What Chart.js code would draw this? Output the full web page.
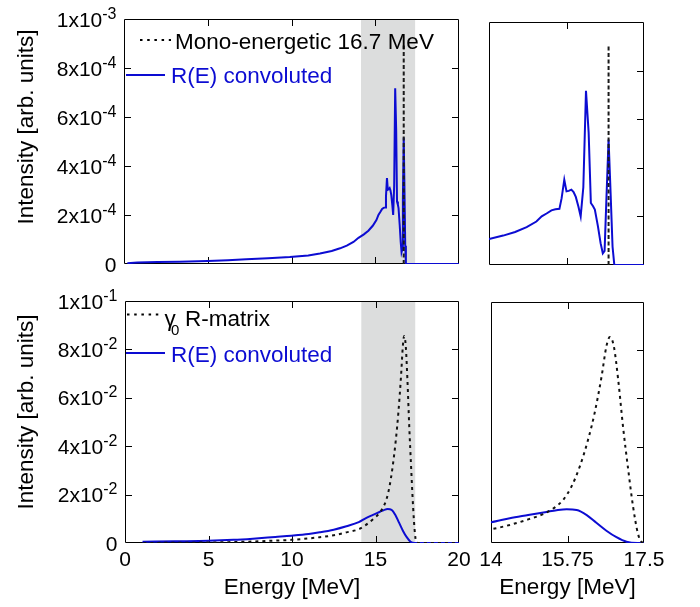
<!DOCTYPE html>
<html>
<head>
<meta charset="utf-8">
<script src="https://cdn.jsdelivr.net/npm/chart.js@4.4.1/dist/chart.umd.min.js"></script>
<style>
  html, body { margin: 0; padding: 0; background: #fff; }
  #wrap { position: relative; width: 700px; height: 607px; }
  #wrap canvas { position: absolute; left: 0; top: 0; }
</style>
</head>
<body>
<div id="wrap">
  <canvas id="topFull" width="700" height="607"></canvas>
  <canvas id="topZoom" width="700" height="607"></canvas>
  <canvas id="botFull" width="700" height="607"></canvas>
  <canvas id="botZoom" width="700" height="607"></canvas>
</div>
<script>
// ---- Mono-energetic 16.7 MeV line and its R(E)-convoluted response ----
const monoEnergy = [16.7, 16.7];
const monoIntensity = [0, 9.0e-4];

const respEnergy = [0.2, 0.8, 2.0, 3.3, 5.0, 6.2, 7.3, 8.6, 9.9, 11.0, 11.7, 12.4, 12.9,
  13.3, 13.7, 14.0, 14.32, 14.59, 14.85, 15.07, 15.19, 15.30, 15.41, 15.50, 15.59, 15.64,
  15.70, 15.75, 15.80, 15.86, 15.91, 15.96, 16.02, 16.07, 16.13, 16.19, 16.25, 16.30, 16.35,
  16.39, 16.46, 16.52, 16.57, 16.61, 16.65, 16.70, 16.74, 16.79, 16.83, 17.5, 20.0];
const respIntensity = [0.03e-4, 0.065e-4, 0.08e-4, 0.094e-4, 0.12e-4, 0.15e-4, 0.19e-4,
  0.23e-4, 0.285e-4, 0.35e-4, 0.43e-4, 0.53e-4, 0.64e-4, 0.75e-4, 0.90e-4, 1.07e-4, 1.21e-4,
  1.36e-4, 1.56e-4, 1.79e-4, 2.00e-4, 2.12e-4, 2.25e-4, 2.29e-4, 2.31e-4, 2.75e-4, 3.51e-4,
  3.03e-4, 3.05e-4, 3.10e-4, 3.00e-4, 2.80e-4, 2.40e-4, 2.00e-4, 3.20e-4, 7.17e-4, 5.45e-4,
  2.55e-4, 2.42e-4, 2.28e-4, 1.59e-4, 0.90e-4, 0.48e-4, 0.58e-4, 2.65e-4, 5.16e-4, 3.25e-4,
  0.75e-4, 0, 0, 0];

// ---- gamma0 R-matrix spectrum and its R(E)-convoluted response ----
const rmatEnergy = [1.1, 3.0, 5.0, 6.5, 7.66, 9.0, 9.96, 11.0, 11.66, 12.5, 13.26, 14.0,
  14.43, 14.85, 15.23, 15.46, 15.65, 15.84, 16.03, 16.22, 16.37, 16.53, 16.64, 16.72, 16.81,
  16.91, 17.02, 17.13, 17.25, 17.36, 17.44, 17.6, 20.0];
const rmatIntensity = [0.0, 0.0001, 0.0002, 0.0004, 0.0006, 0.0010, 0.0013, 0.0019, 0.0024,
  0.0032, 0.0044, 0.0057, 0.0075, 0.0098, 0.0123, 0.0148, 0.0179, 0.0234, 0.0317, 0.0428,
  0.0539, 0.0691, 0.0816, 0.0855, 0.0816, 0.0677, 0.0483, 0.0317, 0.0151, 0.0040, 0.0005,
  0.0, 0.0];

const convEnergy = [1.05, 3.0, 5.0, 6.5, 7.66, 9.0, 9.96, 11.0, 11.66, 12.5, 13.26, 14.0,
  14.43, 14.85, 15.27, 15.5, 15.73, 15.96, 16.19, 16.41, 16.64, 16.87, 17.10, 17.35, 20.0];
const convIntensity = [0.0005, 0.0007, 0.0009, 0.0013, 0.0018, 0.0025, 0.0030, 0.0037,
  0.0044, 0.0055, 0.0069, 0.0086, 0.0103, 0.0116, 0.0129, 0.0136, 0.0140, 0.0137, 0.0116,
  0.0084, 0.0051, 0.0024, 0.0005, 0.0, 0.0];

// ---- shaded energy window, ticks and labels ----
const bandRange = [14.15, 17.38];
const xTicksFull = [0, 5, 10, 15, 20];
const xTickLabelsFull = ['0', '5', '10', '15', '20'];
const xTicksZoom = [14, 15.75, 17.5];
const xTickLabelsZoom = ['14', '15.75', '17.5'];
const yTicksTop = [0, 2e-4, 4e-4, 6e-4, 8e-4, 1e-3];
const yTickLabelsTop = [['0', ''], ['2x10', '-4'], ['4x10', '-4'], ['6x10', '-4'], ['8x10', '-4'], ['1x10', '-3']];
const yTicksBottom = [0, 0.02, 0.04, 0.06, 0.08, 0.1];
const yTickLabelsBottom = [['0', ''], ['2x10', '-2'], ['4x10', '-2'], ['6x10', '-2'], ['8x10', '-2'], ['1x10', '-1']];

const FONT = '"Liberation Sans", Arial, Helvetica, sans-serif';
const BLUE = '#0c0cd2';
const INK = '#000';
const BAND = '#dcdddd';

const zip = (xs, ys) => xs.map((x, i) => ({ x, y: ys[i] }));

// Frame, inward ticks, band, y labels with exponents, axis title, legend
const decor = {
  id: 'decor',
  beforeDatasetsDraw(chart, _args, o) {
    const { ctx, chartArea: a } = chart;
    const x = chart.scales.x, y = chart.scales.y;
    ctx.save();
    if (o.band) {
      const b0 = Math.max(a.left, x.getPixelForValue(o.band[0]));
      const b1 = Math.min(a.right, x.getPixelForValue(o.band[1]));
      if (b1 > b0) {
        ctx.fillStyle = BAND;
        ctx.fillRect(b0, a.top, b1 - b0, a.bottom - a.top);
      }
    }

    ctx.strokeStyle = INK;
    ctx.lineWidth = 1;
    ctx.beginPath();
    ctx.rect(a.left + 0.5, a.top + 0.5, a.width - 1, a.height - 1);
    const L = 7;
    x.ticks.forEach(t => {
      const px = Math.round(x.getPixelForValue(t.value)) + 0.5;
      if (px <= a.left + 2 || px >= a.right - 2) return;
      ctx.moveTo(px, a.top); ctx.lineTo(px, a.top + L);
      ctx.moveTo(px, a.bottom); ctx.lineTo(px, a.bottom - L);
    });
    y.ticks.forEach(t => {
      const py = Math.round(y.getPixelForValue(t.value)) + 0.5;
      if (py <= a.top + 2 || py >= a.bottom - 2) return;
      if (o.leftTicks) { ctx.moveTo(a.left, py); ctx.lineTo(a.left + L, py); }
      ctx.moveTo(a.right, py); ctx.lineTo(a.right - L, py);
    });
    ctx.stroke();

    if (o.yLabels) {
      ctx.fillStyle = INK;
      ctx.textAlign = 'right';
      ctx.textBaseline = 'alphabetic';
      y.ticks.forEach((t, i) => {
        const [m, e] = o.yLabels[i];
        const py = y.getPixelForValue(t.value);
        const rx = a.left - 7.5;
        if (!e) {
          ctx.font = `21px ${FONT}`;
          ctx.fillText(m, rx, py + 7.5);
          return;
        }
        ctx.font = `16px ${FONT}`;
        const ew = ctx.measureText(e).width;
        ctx.fillText(e, rx, py - 0.5);
        ctx.font = `21px ${FONT}`;
        ctx.fillText(m, rx - ew, py + 7.5);
      });
    }
    if (o.yTitle) {
      ctx.save();
      ctx.translate(32.5, o.yTitle.cy);
      ctx.rotate(-Math.PI / 2);
      ctx.fillStyle = INK;
      ctx.font = `22.5px ${FONT}`;
      ctx.textAlign = 'center';
      ctx.textBaseline = 'alphabetic';
      ctx.fillText(o.yTitle.text, 0, 0);
      ctx.restore();
    }
    ctx.restore();
  },
  afterDatasetsDraw(chart, _args, o) {
    if (!o.legend) return;
    const { ctx } = chart;
    ctx.save();
    o.legend.forEach(it => {
      ctx.beginPath();
      ctx.strokeStyle = it.color;
      ctx.lineWidth = 2;
      ctx.setLineDash(it.dash || []);
      ctx.moveTo(it.x0, it.ly);
      ctx.lineTo(it.x1, it.ly);
      ctx.stroke();
      ctx.setLineDash([]);
      ctx.fillStyle = it.color;
      ctx.textAlign = 'left';
      ctx.textBaseline = 'alphabetic';
      let tx = it.tx;
      if (it.symbol) {
        ctx.font = `22.5px ${FONT}`;
        ctx.fillText(it.symbol, tx, it.ty);
        ctx.font = `15px ${FONT}`;
        ctx.fillText(it.sub, it.subX, it.ty + 9);
        tx = it.textX;
      }
      ctx.font = `22.5px ${FONT}`;
      ctx.fillText(it.text, tx, it.ty);
    });
    ctx.restore();
  }
};

function panel(id, cfg) {
  const [left, top, right, bottom] = cfg.area;
  const showX = !!cfg.xLabels;
  return new Chart(document.getElementById(id), {
    type: 'line',
    data: { datasets: cfg.datasets },
    options: {
      responsive: false,
      animation: false,
      devicePixelRatio: 1,
      events: [],
      layout: { autoPadding: false, padding: { left, top, right: 700 - right, bottom: showX ? 0 : 607 - bottom } },
      elements: { point: { radius: 0 } },
      plugins: { legend: { display: false }, tooltip: { enabled: false }, decor: cfg.decor },
      scales: {
        x: {
          type: 'linear', position: 'bottom', min: cfg.xRange[0], max: cfg.xRange[1],
          grid: { display: false, drawTicks: false }, border: { display: false },
          afterBuildTicks: s => { s.ticks = cfg.xTicks.map(v => ({ value: v })); },
          afterFit: s => { s.height = showX ? 607 - bottom : 0; s.paddingLeft = 0; s.paddingRight = 0; },
          ticks: {
            display: showX, autoSkip: false, maxRotation: 0, padding: 5, color: INK,
            font: { family: FONT, size: 21, lineHeight: 1.2 },
            callback: (v, i) => (cfg.xLabels ? cfg.xLabels[i] : '')
          },
          title: {
            display: showX, text: 'Energy [MeV]', color: INK,
            font: { family: FONT, size: 22.5, lineHeight: 1.2 }, padding: { top: 0, bottom: 6 }
          }
        },
        y: {
          type: 'linear', position: 'left', min: cfg.yRange[0], max: cfg.yRange[1],
          grid: { display: false, drawTicks: false }, border: { display: false },
          afterBuildTicks: s => { s.ticks = cfg.yTicks.map(v => ({ value: v })); },
          afterFit: s => { s.width = 0; },
          ticks: { display: false }
        }
      }
    },
    plugins: [decor]
  });
}

function topSets() {
  return [
    { data: zip(monoEnergy, monoIntensity), borderColor: '#1a1a1a', borderWidth: 2, borderDash: [4, 2.5], tension: 0 },
    { data: zip(respEnergy, respIntensity), borderColor: BLUE, borderWidth: 2, tension: 0 }
  ];
}
function bottomSets() {
  return [
    { data: zip(rmatEnergy, rmatIntensity), borderColor: '#111', borderWidth: 2, borderDash: [3, 4], cubicInterpolationMode: 'monotone' },
    { data: zip(convEnergy, convIntensity), borderColor: BLUE, borderWidth: 2, cubicInterpolationMode: 'monotone' }
  ];
}

panel('topFull', {
  area: [124, 19, 459, 264], xRange: [0, 20], yRange: [0, 1e-3],
  xTicks: xTicksFull, yTicks: yTicksTop, datasets: topSets(),
  decor: {
    band: bandRange, leftTicks: true, yLabels: yTickLabelsTop,
    yTitle: { text: 'Intensity [arb. units]', cy: 127 },
    legend: [
      { x0: 140, x1: 171, ly: 40, color: INK, dash: [2.5, 4.7], tx: 175, ty: 48.5, text: 'Mono-energetic 16.7 MeV' },
      { x0: 126, x1: 165, ly: 75, color: BLUE, tx: 171, ty: 83, text: 'R(E) convoluted' }
    ]
  }
});

panel('topZoom', {
  area: [489, 22, 644, 265], xRange: [14, 17.5], yRange: [0, 1e-3],
  xTicks: xTicksZoom, yTicks: yTicksTop, datasets: topSets(),
  decor: { band: null, leftTicks: false }
});

panel('botFull', {
  area: [125, 301, 459, 543], xRange: [0, 20], yRange: [0, 0.1],
  xTicks: xTicksFull, xLabels: xTickLabelsFull, yTicks: yTicksBottom, datasets: bottomSets(),
  decor: {
    band: bandRange, leftTicks: true, yLabels: yTickLabelsBottom,
    yTitle: { text: 'Intensity [arb. units]', cy: 412 },
    legend: [
      { x0: 127, x1: 163, ly: 314.5, color: INK, dash: [2.5, 4.7], symbol: 'γ', sub: '0', subX: 171, tx: 164.5, textX: 185, ty: 326, text: 'R-matrix' },
      { x0: 126, x1: 165, ly: 353, color: BLUE, tx: 171, ty: 362, text: 'R(E) convoluted' }
    ]
  }
});

panel('botZoom', {
  area: [491, 302, 644, 543], xRange: [14, 17.5], yRange: [0, 0.1],
  xTicks: xTicksZoom, xLabels: xTickLabelsZoom, yTicks: yTicksBottom, datasets: bottomSets(),
  decor: { band: null, leftTicks: false }
});
</script>
</body>
</html>
